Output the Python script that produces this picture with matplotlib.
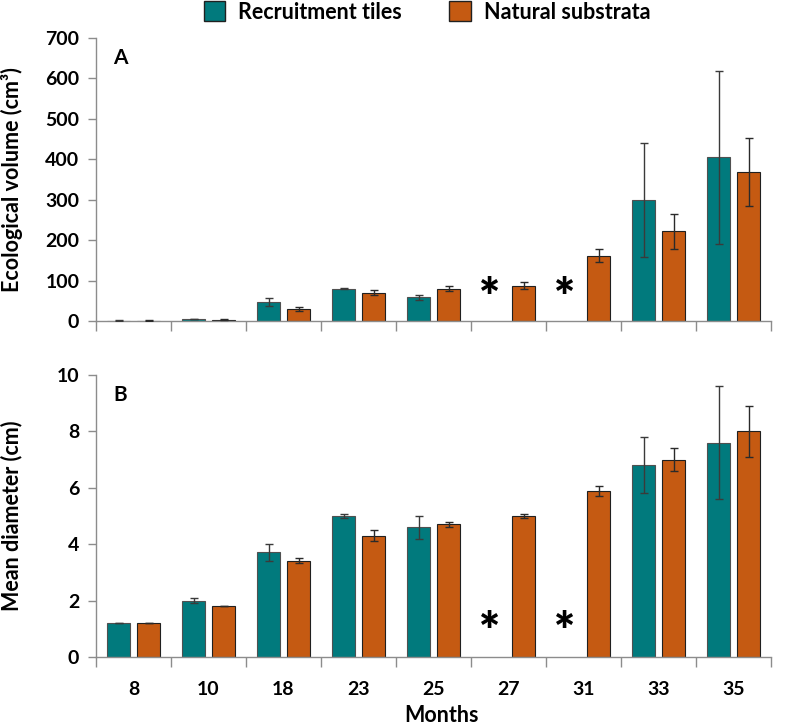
import numpy as np
import matplotlib
matplotlib.use('Agg')
import matplotlib.pyplot as plt
from matplotlib.patches import Patch

plt.rcParams['font.family'] = ['Lato', 'DejaVu Sans']
plt.rcParams['font.weight'] = 'bold'

# Dados
meses = ['8', '10', '18', '23', '25', '27', '31', '33', '35']
vol_placas = [1, 5, 48, 80, 59, np.nan, np.nan, 299, 405]
vol_placas_err = [0.5, 1, 10, 2, 6, np.nan, np.nan, 141, 214]
vol_natural = [1, 3, 30, 70, 80, 87, 161, 222, 369]
vol_natural_err = [0.5, 1, 5, 6, 7, 9, 16, 43, 84]

diam_placas = [1.2, 2.0, 3.72, 5.0, 4.6, np.nan, np.nan, 6.8, 7.6]
diam_placas_err = [0.0, 0.1, 0.3, 0.08, 0.4, np.nan, np.nan, 1.0, 2.0]
diam_natural = [1.2, 1.8, 3.42, 4.3, 4.7, 5.0, 5.9, 7.0, 8.0]
diam_natural_err = [0.0, 0.0, 0.1, 0.2, 0.1, 0.08, 0.18, 0.4, 0.9]

cor_placas = '#017A7D'
cor_natural = '#C55A12'
cinza = '#8c8c8c'

fig = plt.figure(figsize=(7.85, 7.28), dpi=100)
ax_a = fig.add_axes([96/785, 1-321/728, 675/785, 283/728])
ax_b = fig.add_axes([96/785, 1-657/728, 675/785, 282/728])

x = np.arange(len(meses))
larg = 0.3
desloc = 0.2


def painel(ax, placas, placas_err, natural, natural_err, ymax, passo, letra, y_ast):
    placas = np.array(placas, dtype=float)
    placas_err = np.array(placas_err, dtype=float)
    ok = ~np.isnan(placas)
    ax.bar(x[ok] - desloc, placas[ok], larg, color=cor_placas, edgecolor='#505050', linewidth=0.8, zorder=2)
    ax.bar(x + desloc, natural, larg, color=cor_natural, edgecolor='#202020', linewidth=0.8, zorder=2)
    ax.errorbar(x[ok] - desloc, placas[ok], yerr=placas_err[ok], fmt='none', ecolor='#3a3a3a',
                elinewidth=1, capsize=3, capthick=1, zorder=3)
    ax.errorbar(x + desloc, natural, yerr=natural_err, fmt='none', ecolor='#2a2a2a',
                elinewidth=1, capsize=3, capthick=1, zorder=3)
    # asterisco onde não houve amostra nas placas
    for i in x[~ok]:
        ax.text(i - 0.25, y_ast, '*', fontsize=36, fontweight='heavy', ha='center', va='center')
    ax.set_xlim(-0.5, len(meses) - 0.5)
    ax.set_ylim(0, ymax)
    ax.set_yticks(np.arange(0, ymax + passo / 2, passo))
    ax.set_xticks(np.arange(-0.5, len(meses)), minor=False)
    ax.set_xticklabels([])
    ax.set_xticks(x, minor=True)
    ax.tick_params(axis='x', which='major', length=7, direction='out', color=cinza, width=1)
    ax.tick_params(axis='x', which='minor', length=0, pad=17, labelsize=14)
    ax.tick_params(axis='y', length=6, direction='out', color=cinza, width=1, labelsize=14, pad=6)
    for s in ['top', 'right']:
        ax.spines[s].set_visible(False)
    for s in ['left', 'bottom']:
        ax.spines[s].set_color(cinza)
        ax.spines[s].set_linewidth(1)
    ax.text(17/675, 0.93, letra, transform=ax.transAxes, fontsize=15, fontweight='bold',
            ha='left', va='center')


painel(ax_a, vol_placas, vol_placas_err, vol_natural, vol_natural_err, 700, 100, 'A', 54)
painel(ax_b, diam_placas, diam_placas_err, diam_natural, diam_natural_err, 10, 2, 'B', 0.85)

ax_b.set_xticklabels(meses, minor=True, fontweight='bold')

fig.text(12/785, 1-180/728, 'Ecological volume (cm³)', rotation=90, ha='center', va='center',
         fontsize=15.5, fontweight='bold')
fig.text(12/785, 1-516/728, 'Mean diameter (cm)', rotation=90, ha='center', va='center',
         fontsize=15.5, fontweight='bold')
fig.text(441/785, 1-716/728, 'Months', ha='center', va='center', fontsize=15.5, fontweight='bold')

handles = [Patch(facecolor=cor_placas, edgecolor='#202020', label='Recruitment tiles'),
           Patch(facecolor=cor_natural, edgecolor='#202020', label='Natural substrata')]
fig.legend(handles=handles, loc='center', bbox_to_anchor=(427/785, 1-12/728), ncol=2, frameon=False,
           prop={'size': 15.5, 'weight': 'bold'}, handlelength=1.0, handleheight=1.0,
           handletextpad=0.6, columnspacing=2.2, borderaxespad=0)

fig.savefig('out.png', dpi=100)
